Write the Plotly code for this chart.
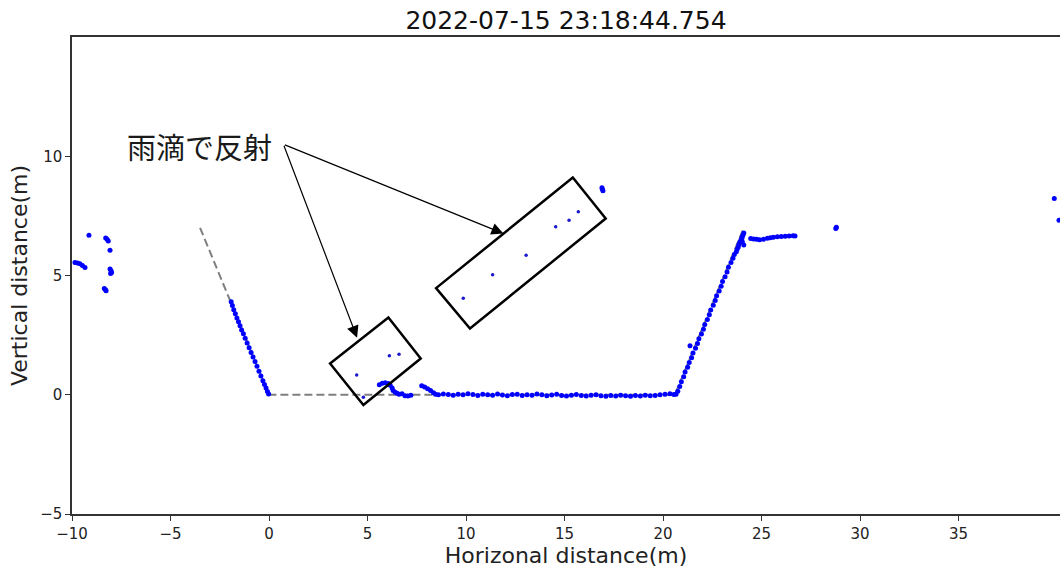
import plotly.graph_objects as go

TITLE = "2022-07-15 23:18:44.754"
X_LABEL = "Horizonal distance(m)"
Y_LABEL = "Vertical distance(m)"
NOTE = "雨滴で反射"

# reference profile (gray dashed)
profile_x = [-3.5, 0.0, 20.6, 24.1]
profile_y = [7.0, 0.0, 0.0, 7.0]

# lidar points
left_x = [-9.14, -8.29, -8.22, -8.16, -8.07, -9.85, -9.72, -9.60, -9.47, -9.34,
          -8.07, -8.02, -7.99, -8.04, -8.36, -8.30, -8.27]
left_y = [6.69, 6.57, 6.52, 6.45, 6.06, 5.55, 5.52, 5.49, 5.42, 5.34,
          5.27, 5.20, 5.13, 5.08, 4.45, 4.40, 4.36]

slope_l_x = [-1.92, -1.86, -1.79, -1.71, -1.63, -1.55, -1.47, -1.39, -1.30, -1.21,
             -1.11, -1.01, -0.91, -0.81, -0.71, -0.61, -0.51, -0.41, -0.31, -0.23,
             -0.15, -0.08, -0.02]
slope_l_y = [3.90, 3.74, 3.56, 3.40, 3.22, 3.06, 2.89, 2.72, 2.56, 2.37,
             2.17, 1.97, 1.77, 1.58, 1.39, 1.19, 0.99, 0.79, 0.59, 0.43,
             0.28, 0.14, 0.03]

rain_x = [4.45, 6.11, 6.60, 4.79, 9.86, 11.35, 13.05, 14.55, 15.23, 15.70]
rain_y = [0.83, 1.63, 1.70, -0.10, 4.05, 5.03, 5.85, 7.04, 7.32, 7.67]

floor_x = [5.60, 5.75, 5.90, 6.05, 6.15, 6.25, 6.30, 6.40, 6.50, 6.60, 6.75, 6.90, 7.05, 7.20,
           7.75, 7.90, 8.05, 8.20, 8.35, 8.45,
           8.60, 8.85, 9.10, 9.35, 9.60, 9.85, 10.10, 10.35, 10.60, 10.85, 11.10, 11.35,
           11.60, 11.85, 12.10, 12.35, 12.60, 12.85, 13.10, 13.35, 13.60, 13.85, 14.10,
           14.35, 14.60, 14.85, 15.10, 15.35, 15.60, 15.85, 16.10, 16.35, 16.60, 16.85,
           17.10, 17.35, 17.60, 17.85, 18.10, 18.35, 18.60, 18.85, 19.10, 19.35, 19.60,
           19.85, 20.10, 20.35, 20.55]
floor_y = [0.42, 0.48, 0.50, 0.47, 0.40, 0.28, 0.18, 0.10, 0.06, 0.02, 0.04, -0.04, -0.05, -0.02,
           0.38, 0.32, 0.25, 0.18, 0.08, 0.02,
           0.00, 0.03, 0.01, -0.02, 0.02, 0.00, 0.04, 0.01, -0.03, 0.02, 0.00, -0.02,
           0.03, -0.01, -0.04, 0.01, 0.02, -0.03, 0.00, -0.02, 0.03, 0.00, -0.04,
           -0.01, 0.02, -0.03, -0.05, -0.02, 0.01, -0.03, -0.05, -0.02, 0.00, -0.04,
           -0.06, -0.03, -0.05, -0.02, -0.04, -0.06, -0.03, -0.05, -0.02, -0.04, -0.03,
           0.00, 0.02, 0.04, 0.01]

slope_r_x = [20.66, 20.75, 20.85, 20.93, 21.05, 21.12, 21.25, 21.33, 21.45, 21.52,
             21.65, 21.75, 21.82, 21.95, 22.05, 22.12, 22.25, 22.35, 22.42, 22.55,
             22.65, 22.72, 22.85, 22.95, 23.02, 23.15, 23.25, 23.32, 23.45, 23.55,
             23.62, 23.72, 23.76, 23.82, 23.85, 23.90, 23.95, 24.00, 24.02, 24.06,
             24.10, 24.03, 24.10, 21.37]
slope_r_y = [0.02, 0.15, 0.35, 0.55, 0.75, 0.95, 1.15, 1.35, 1.55, 1.75,
             1.95, 2.15, 2.35, 2.55, 2.75, 2.95, 3.15, 3.35, 3.55, 3.75,
             3.95, 4.15, 4.35, 4.55, 4.75, 4.95, 5.15, 5.35, 5.55, 5.72,
             5.88, 6.00, 6.10, 6.20, 6.30, 6.40, 6.48, 6.55, 6.62, 6.70,
             6.78, 6.40, 6.28, 2.05]

top_x = [24.45, 24.60, 24.75, 24.90, 25.10, 25.30, 25.45, 25.60, 25.80, 26.00,
         26.20, 26.40, 26.60, 26.70, 28.77, 28.80, 16.92, 16.95, 16.90, 39.86, 40.10]
top_y = [6.55, 6.53, 6.52, 6.50, 6.52, 6.56, 6.58, 6.60, 6.62, 6.63,
         6.65, 6.66, 6.67, 6.66, 6.97, 7.02, 8.62, 8.55, 8.68, 8.23, 7.32]

# highlight boxes (rotated rectangles, data coords)
box_small_x = [3.10, 6.06, 7.70, 4.79]
box_small_y = [1.31, 3.24, 1.52, -0.43]
box_big_x = [8.48, 15.42, 17.09, 10.20]
box_big_y = [4.47, 9.11, 7.39, 2.78]

note_pos = (-3.55, 10.45)
arrow_tail = (0.73, 10.50)
arrow_heads = [(4.47, 2.39), (11.90, 6.76)]

pts_x = left_x + slope_l_x + floor_x + slope_r_x + top_x
pts_y = left_y + slope_l_y + floor_y + slope_r_y + top_y

fig = go.Figure()
fig.add_trace(go.Scatter(x=profile_x, y=profile_y, mode="lines",
                         line=dict(color="#7f7f7f", width=2, dash="8px,4px"),
                         hoverinfo="skip", showlegend=False))
fig.add_trace(go.Scatter(x=pts_x, y=pts_y, mode="markers",
                         marker=dict(color="#0000ff", size=5, line=dict(width=0)),
                         showlegend=False))
fig.add_trace(go.Scatter(x=rain_x, y=rain_y, mode="markers",
                         marker=dict(color="#1a1acc", size=3.5, line=dict(width=0)),
                         showlegend=False))

def box_path(xs, ys):
    p = f"M {xs[0]},{ys[0]}"
    for xx, yy in zip(xs[1:], ys[1:]):
        p += f" L {xx},{yy}"
    return p + " Z"

for bx, by in [(box_small_x, box_small_y), (box_big_x, box_big_y)]:
    fig.add_shape(type="path", path=box_path(bx, by), xref="x", yref="y",
                  line=dict(color="black", width=2.5))

fig.add_annotation(x=note_pos[0], y=note_pos[1], xref="x", yref="y", text=NOTE,
                   showarrow=False, xanchor="center", yanchor="middle",
                   font=dict(family="Noto Sans CJK JP", size=29, color="#1a1a1a"))
for hx, hy in arrow_heads:
    fig.add_annotation(x=hx, y=hy, ax=arrow_tail[0], ay=arrow_tail[1],
                       xref="x", yref="y", axref="x", ayref="y", text="",
                       showarrow=True, arrowhead=2, arrowsize=2, arrowwidth=1.2,
                       arrowcolor="black", standoff=0, startstandoff=0)

axis_font = dict(family="DejaVu Sans", size=15, color="#222")
label_font = dict(family="DejaVu Sans", size=22, color="#222")
fig.update_layout(
    width=1060, height=571,
    margin=dict(l=72, r=0, t=37, b=57),
    paper_bgcolor="white", plot_bgcolor="white",
    title=dict(text=TITLE, x=0.5, xanchor="center", xref="paper", y=0.965, yanchor="middle",
               font=dict(family="DejaVu Sans", size=25, color="#111")),
    xaxis=dict(range=[-10, 40.15], tickvals=[-10, -5, 0, 5, 10, 15, 20, 25, 30, 35],
               showgrid=False, zeroline=False, showline=True, linecolor="#333", linewidth=1.5,
               mirror=True, ticks="outside", ticklen=5, tickcolor="#333", tickfont=axis_font,
               title=dict(text=X_LABEL, font=label_font, standoff=2)),
    yaxis=dict(range=[-5, 15], tickvals=[-5, 0, 5, 10],
               showgrid=False, zeroline=False, showline=True, linecolor="#333", linewidth=1.5,
               mirror=False, ticks="outside", ticklen=5, tickcolor="#333", tickfont=axis_font,
               title=dict(text=Y_LABEL, font=label_font, standoff=6)),
)

fig.write_html("out.html")
